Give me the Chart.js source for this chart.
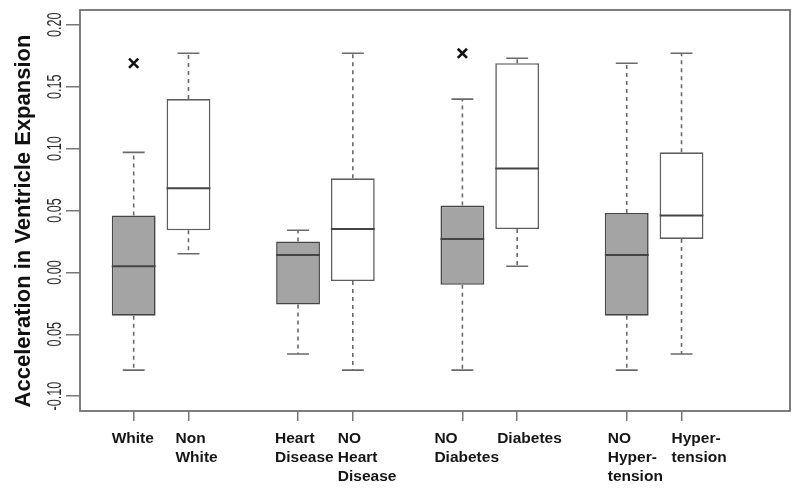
<!DOCTYPE html>
<html>
<head>
<meta charset="utf-8">
<script src="https://cdn.jsdelivr.net/npm/chart.js@4.4.1/dist/chart.umd.min.js"></script>
<style>
  body { margin: 0; background: #fff; }
</style>
</head>
<body>
<canvas id="grafico" width="800" height="490"></canvas>
<script>
// ==== Dados ====
const categories = ['White', 'Non White', 'Heart Disease', 'NO Heart Disease', 'NO Diabetes', 'Diabetes', 'NO Hypertension', 'Hypertension'];
const labelLines = [['White'], ['Non', 'White'], ['Heart', 'Disease'], ['NO', 'Heart', 'Disease'], ['NO', 'Diabetes'], ['Diabetes'], ['NO', 'Hyper-', 'tension'], ['Hyper-', 'tension']];
const positions = [1, 2, 4, 5, 7, 8, 10, 11];

const lowWhisker = [-0.079, 0.015, -0.066, -0.079, -0.079, 0.005, -0.079, -0.066];
const q1 = [-0.035, 0.034, -0.026, -0.007, -0.010, 0.035, -0.035, 0.027];
const median = [0.005, 0.068, 0.014, 0.035, 0.027, 0.084, 0.014, 0.046];
const q3 = [0.046, 0.140, 0.025, 0.076, 0.054, 0.169, 0.048, 0.097];
const highWhisker = [0.097, 0.177, 0.034, 0.177, 0.140, 0.173, 0.169, 0.177];

const outlierPos = [1, 7];
const outlierVal = [0.169, 0.177];

const tickValues = [-0.10, -0.05, 0, 0.05, 0.10, 0.15, 0.20];
const tickLabels = ['-0.10', '0.05', '0.00', '0.05', '0.10', '0.15', '0.20'];

const yTitle = 'Acceleration in Ventricle Expansion';

// little horizontal nudges for the hand placed category labels
const labelNudge = [-22, -13, -23, -15, -28, -20, -19, -10];

// ==== Plugin: whiskers, medians, labels ====
const boxExtras = {
    id: 'boxExtras',
    afterDatasetsDraw(chart) {
        const { ctx, scales: { x, y } } = chart;
        const unit = x.getPixelForValue(1) - x.getPixelForValue(0);
        ctx.save();
        positions.forEach((p, i) => {
            const px = x.getPixelForValue(p);
            // whiskers dashed
            ctx.strokeStyle = '#6a6a6a';
            ctx.lineWidth = 1.6;
            ctx.setLineDash([4, 4]);
            ctx.beginPath();
            ctx.moveTo(px, y.getPixelForValue(q3[i]));
            ctx.lineTo(px, y.getPixelForValue(highWhisker[i]));
            ctx.moveTo(px, y.getPixelForValue(q1[i]));
            ctx.lineTo(px, y.getPixelForValue(lowWhisker[i]));
            ctx.stroke();
            // staples
            ctx.setLineDash([]);
            ctx.beginPath();
            [highWhisker[i], lowWhisker[i]].forEach(v => {
                const py = y.getPixelForValue(v);
                ctx.moveTo(px - unit * 0.2, py);
                ctx.lineTo(px + unit * 0.2, py);
            });
            ctx.stroke();
            // median
            ctx.strokeStyle = '#444';
            ctx.lineWidth = 2;
            ctx.beginPath();
            const my = y.getPixelForValue(median[i]);
            ctx.moveTo(px - unit * 0.4, my);
            ctx.lineTo(px + unit * 0.4, my);
            ctx.stroke();
        });
        ctx.restore();
    },
    afterDraw(chart) {
        const { ctx, chartArea: a, scales: { x, y } } = chart;
        ctx.save();
        // plot box
        ctx.strokeStyle = '#707070';
        ctx.lineWidth = 1.8;
        ctx.strokeRect(a.left, a.top, a.right - a.left, a.bottom - a.top);

        // y tick labels (tall narrow digits)
        ctx.fillStyle = '#2a2a2a';
        ctx.textAlign = 'center';
        ctx.textBaseline = 'middle';
        ctx.font = '21px "Liberation Sans", Arial, sans-serif';
        tickValues.forEach((v, i) => {
            ctx.save();
            ctx.translate(55, y.getPixelForValue(v));
            ctx.rotate(-Math.PI / 2);
            ctx.scale(0.6, 1);
            ctx.fillText(tickLabels[i], 0, 0);
            ctx.restore();
        });

        // y title
        ctx.save();
        ctx.fillStyle = '#111';
        ctx.font = 'bold 22px "Liberation Sans", Arial, sans-serif';
        ctx.translate(24, 221);
        ctx.rotate(-Math.PI / 2);
        ctx.fillText(yTitle, 0, 0);
        ctx.restore();

        // category labels
        ctx.fillStyle = '#151515';
        ctx.textAlign = 'left';
        ctx.font = 'bold 15.5px "Liberation Sans", Arial, sans-serif';
        positions.forEach((p, i) => {
            const lx = x.getPixelForValue(p) + labelNudge[i];
            labelLines[i].forEach((line, j) => {
                ctx.fillText(line, lx, 439 + j * 19);
            });
        });
        ctx.restore();
    }
};

// ==== Gráfico ====
const ctx = document.getElementById('grafico').getContext('2d');
const grafico = new Chart(ctx, {
    type: 'bar',
    data: {
        datasets: [{
            type: 'bar',
            label: 'box',
            data: positions.map((p, i) => ({ x: p, y: [q1[i], q3[i]] })),
            backgroundColor: positions.map((p, i) => i % 2 === 0 ? '#a4a4a4' : '#ffffff'),
            borderColor: positions.map((p, i) => i % 2 === 0 ? '#454545' : '#5e5e5e'),
            borderWidth: 1.6,
            borderSkipped: false,
            barPercentage: 0.8,
            categoryPercentage: 1
        }, {
            type: 'scatter',
            label: 'outliers',
            data: outlierPos.map((p, i) => ({ x: p, y: outlierVal[i] })),
            pointStyle: 'crossRot',
            radius: 6.5,
            borderColor: '#111',
            borderWidth: 2.6
        }]
    },
    options: {
        responsive: false,
        animation: false,
        layout: { padding: { top: 10, right: 10, left: 0, bottom: 0 } },
        plugins: { legend: { display: false }, tooltip: { enabled: false } },
        scales: {
            x: {
                type: 'linear',
                offset: false,
                min: 0.02,
                max: 12.98,
                afterBuildTicks: s => { s.ticks = positions.map(v => ({ value: v })); },
                afterFit: s => { s.height = 79; },
                ticks: { display: false },
                border: { display: false },
                grid: { offset: false, drawOnChartArea: false, drawTicks: true, tickLength: 10, color: '#777', lineWidth: 1.5 }
            },
            y: {
                min: -0.112,
                max: 0.212,
                afterBuildTicks: s => { s.ticks = tickValues.map(v => ({ value: v })); },
                afterFit: s => { s.width = 80; },
                ticks: { display: false },
                border: { display: false },
                grid: { drawOnChartArea: false, drawTicks: true, tickLength: 14, color: '#777', lineWidth: 1.5 }
            }
        }
    },
    plugins: [boxExtras]
});
</script>
</body>
</html>
